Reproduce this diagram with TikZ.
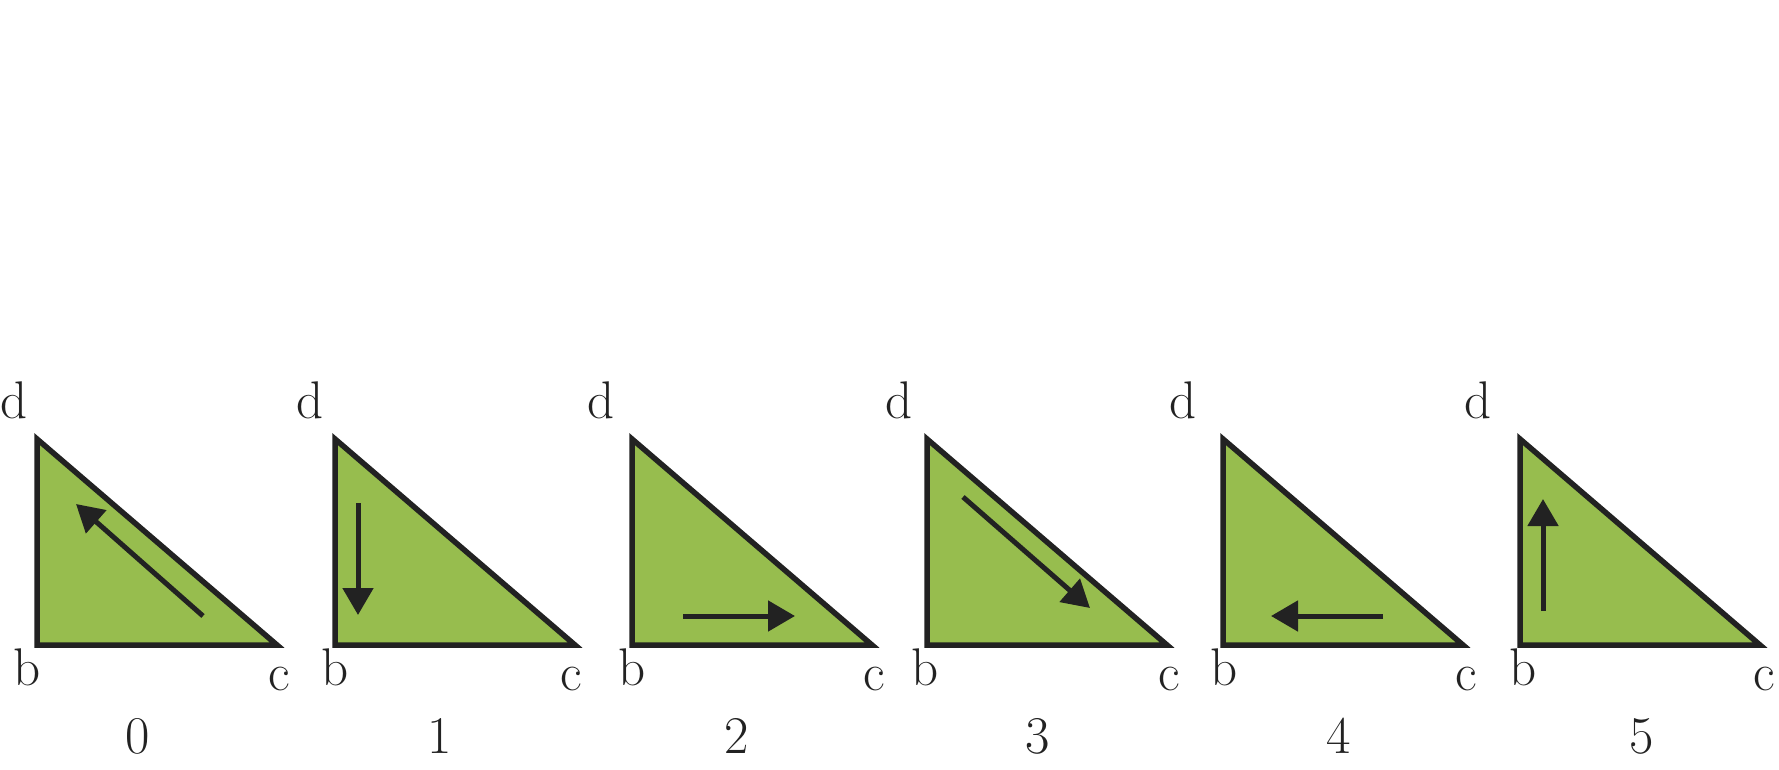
\documentclass[tikz,border=0pt]{standalone}
\usetikzlibrary{arrows.meta}
\definecolor{tri}{HTML}{97BD4E}
\definecolor{ink}{HTML}{222222}
\begin{document}
\begin{tikzpicture}[x=1pt,y=-1pt,
  triangle/.style={fill=tri,draw=ink,line width=5.5pt,line join=miter},
  dir/.style={draw=ink,line width=5pt,-{Triangle[length=27pt,width=30pt]}},
  lab/.style={inner sep=0pt,anchor=base,text=ink,font=\fontsize{53}{60}\selectfont}]
\useasboundingbox (0,0) rectangle (1779,770);
\foreach \i/\bx/\dx/\blx/\clx/\nx in {0/37/13.6/27/279/138, 1/335/309.7/335/571/440, 2/632/601.3/632/874/737, 3/927/898.6/925/1169/1038, 4/1223/1183.4/1224/1466/1339, 5/1520/1478.4/1523/1764/1642}{
  \coordinate (b\i) at (\bx,645);
  \coordinate (d\i) at (\bx,439);
  \coordinate (c\i) at (\bx+240,645);
  \draw[triangle] (d\i) -- (b\i) -- (c\i) -- cycle;
  \node[lab] (ld\i) at (\dx,418) {d};
  \node[lab] (lb\i) at (\blx,685) {b};
  \node[lab] (lc\i) at (\clx,690) {c};
  \node[lab] (n\i) at (\nx,753) {\i};
}
% arrows
\coordinate (a0s) at (203,616); \coordinate (a0e) at (76,504);
\coordinate (a1s) at (358,503); \coordinate (a1e) at (358,615);
\coordinate (a2s) at (683,616); \coordinate (a2e) at (795,616);
\coordinate (a3s) at (963,497); \coordinate (a3e) at (1090,608);
\coordinate (a4s) at (1383,616); \coordinate (a4e) at (1271,616);
\coordinate (a5s) at (1543,611); \coordinate (a5e) at (1543,499);
\foreach \k in {0,...,5}{\draw[dir] (a\k s) -- (a\k e);}
\end{tikzpicture}
\end{document}
